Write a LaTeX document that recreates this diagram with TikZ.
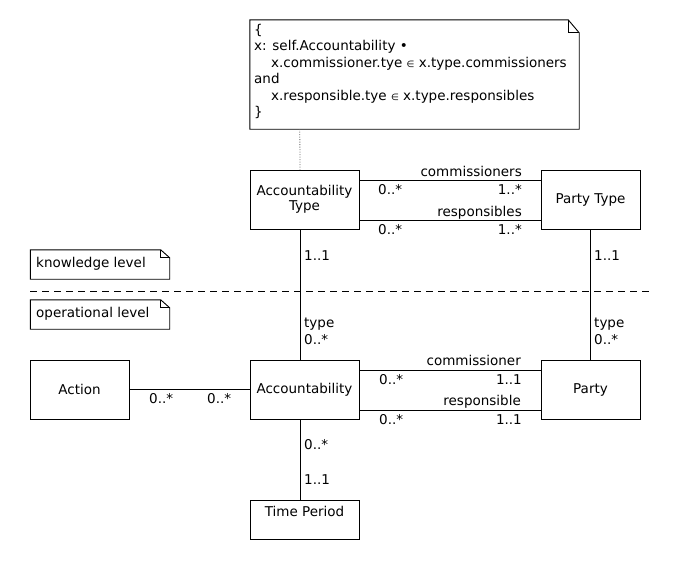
\documentclass[tikz,border=0pt]{standalone}
\usepackage{fontspec}
\setmainfont{DejaVu Sans}
\usetikzlibrary{calc}
\tikzset{
  box/.style={draw, line width=0.9pt, inner sep=0pt, align=center, font=\fontsize{13.5}{15.5}\selectfont},
  lbl/.style={inner sep=0pt, font=\fontsize{13.5}{15.5}\selectfont},
  conn/.style={line width=0.9pt},
  notebox/.style={line width=0.9pt},
  notetext/.style={inner sep=0pt, align=left, font=\fontsize{13.5}{16.4}\selectfont},
}
\begin{document}
\begin{tikzpicture}[x=1pt,y=-1pt]
\useasboundingbox (0,0) rectangle (690,560);
% note
\node[minimum width=329pt, minimum height=109pt, inner sep=0pt] (note) at (414.5,74.5) {};
\draw[notebox] (note.north west) -- ($(note.north east)+(-11,0)$) -- ($(note.north east)+(0,13)$) -- (note.south east) -- (note.south west) -- cycle;
\draw[notebox] ($(note.north east)+(-11,0)$) -- ($(note.north east)+(-11,13)$) -- ($(note.north east)+(0,13)$);
\node[notetext, anchor=north west] (ntext) at (254,24) {\{\\x: self.Accountability •\\\hspace*{17pt}x.commissioner.tye {\fontsize{9}{10}\selectfont∈} x.type.commissioners\\and\\\hspace*{17pt}x.responsible.tye {\fontsize{9}{10}\selectfont∈} x.type.responsibles\\\}};
% boxes
\node[box, minimum width=109pt, minimum height=59pt] (acctype) at (304.5,199.5) {Accountability\\Type};
\node[box, minimum width=99pt, minimum height=59pt] (partytype) at (590.5,199.5) {Party Type};
\node[box, minimum width=99pt, minimum height=59pt] (action) at (79.5,389.5) {Action};
\node[box, minimum width=109pt, minimum height=59pt] (acc) at (304.5,389.5) {Accountability};
\node[box, minimum width=99pt, minimum height=59pt] (party) at (590.5,389.5) {Party};
\node[box, minimum width=109pt, text height=10pt, text depth=17pt, inner ysep=6pt] (tp) at (304.5,520) {Time Period};
% level notes
\node[minimum width=139pt, minimum height=29pt, inner sep=0pt] (kn) at (100,264.5) {};
\draw[notebox] (kn.north west) -- ($(kn.north east)+(-9,0)$) -- ($(kn.north east)+(0,8)$) -- (kn.south east) -- (kn.south west) -- cycle;
\draw[notebox] ($(kn.north east)+(-9,0)$) -- ($(kn.north east)+(-9,8)$) -- ($(kn.north east)+(0,8)$);
\node[lbl, anchor=mid west] (kntext) at (36,265) {knowledge level};
\node[minimum width=139pt, minimum height=29pt, inner sep=0pt] (op) at (100,314.5) {};
\draw[notebox] (op.north west) -- ($(op.north east)+(-9,0)$) -- ($(op.north east)+(0,8)$) -- (op.south east) -- (op.south west) -- cycle;
\draw[notebox] ($(op.north east)+(-9,0)$) -- ($(op.north east)+(-9,8)$) -- ($(op.north east)+(0,8)$);
\node[lbl, anchor=mid west] (optext) at (36,315) {operational level};
% dashed separator
\coordinate (dl) at (30,291);
\coordinate (dr) at (651,291);
\draw[line width=0.8pt, dash pattern=on 7pt off 5pt] (dl) -- (dr);
% dotted note link
\coordinate (nlink) at ($(note.south west)+(50,0)$);
\draw[line width=0.8pt, black!60, dash pattern=on 1pt off 1.5pt] (nlink) -- ([xshift=-4.5pt]acctype.north);
% connectors
\coordinate (c1) at ($(acctype.north east)+(0,11)$);
\coordinate (c2) at ($(acctype.north east)+(0,51)$);
\coordinate (c3) at ($(acc.north east)+(0,11)$);
\coordinate (c4) at ($(acc.north east)+(0,51)$);
\draw[conn] (c1) -- (c1 -| partytype.west);
\draw[conn] (c2) -- (c2 -| partytype.west);
\draw[conn] (c3) -- (c3 -| party.west);
\draw[conn] (c4) -- (c4 -| party.west);
\draw[conn] (action.east) -- (acc.west);
\draw[conn] ([xshift=-4.5pt]acctype.south) -- ([xshift=-4.5pt]acc.north);
\draw[conn] ([xshift=-4.5pt]acc.south) -- ([xshift=-4.5pt]tp.north);
\draw[conn] (partytype.south) -- (party.north);
% labels
\node[lbl, anchor=mid west] at (304,258) {1..1};
\node[lbl, anchor=mid west] at (594,258) {1..1};
\node[lbl, anchor=mid west] at (304,325) {type};
\node[lbl, anchor=mid west] at (304,342) {0..*};
\node[lbl, anchor=mid west] at (594,325) {type};
\node[lbl, anchor=mid west] at (594,342) {0..*};
\node[lbl, anchor=mid east] at (522,174) {commissioners};
\node[lbl, anchor=mid west] at (378,192) {0..*};
\node[lbl, anchor=mid east] at (522,192) {1..*};
\node[lbl, anchor=mid east] at (522,214) {responsibles};
\node[lbl, anchor=mid west] at (378,232) {0..*};
\node[lbl, anchor=mid east] at (522,232) {1..*};
\node[lbl, anchor=mid east] at (521,363) {commissioner};
\node[lbl, anchor=mid west] at (379,382) {0..*};
\node[lbl, anchor=mid east] at (522,382) {1..1};
\node[lbl, anchor=mid east] at (521,403) {responsible};
\node[lbl, anchor=mid west] at (379,422) {0..*};
\node[lbl, anchor=mid east] at (522,422) {1..1};
\node[lbl, anchor=mid west] at (149,401) {0..*};
\node[lbl, anchor=mid west] at (207,401) {0..*};
\node[lbl, anchor=mid west] at (304,447) {0..*};
\node[lbl, anchor=mid west] at (304,482) {1..1};
\end{tikzpicture}
\end{document}
